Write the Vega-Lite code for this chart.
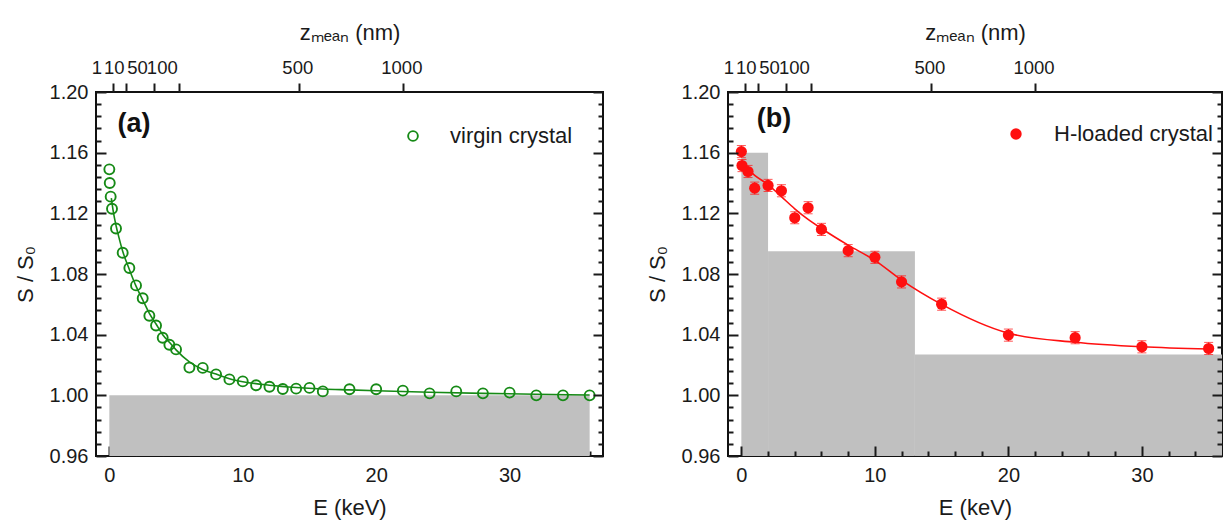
{
  "$schema": "https://vega.github.io/schema/vega-lite/v6.json",
  "padding": {"left": 13, "top": 20, "right": 5, "bottom": 5},
  "spacing": 40,
  "config": {
    "font": "Liberation Sans",
    "view": {"stroke": "#111", "strokeWidth": 2},
    "axis": {
      "domain": false, "grid": false,
      "labelFont": "Liberation Sans", "labelFontSize": 20, "labelColor": "#1a1a1a",
      "titleFont": "Liberation Sans", "titleFontSize": 22, "titleFontWeight": "normal", "titleColor": "#1a1a1a",
      "tickColor": "#1a1a1a", "tickWidth": 2,
      "labelOverlap": false, "labelBound": false, "labelFlush": false
    },
    "legend": {"labelFont": "Liberation Sans", "labelFontSize": 22, "labelColor": "#1a1a1a"}
  },
  "datasets": {
    "gray_a": [{"x0": 0, "x1": 36, "y0": 0.96, "y1": 1.0}],
    "gray_b": [
      {"x0": 0, "x1": 2, "y0": 0.96, "y1": 1.16},
      {"x0": 2, "x1": 13, "y0": 0.96, "y1": 1.095},
      {"x0": 13, "x1": 36, "y0": 0.96, "y1": 1.027}
    ],
    "fit_a": [
      {"E": 0.15, "S": 1.130}, {"E": 0.3, "S": 1.121}, {"E": 0.5, "S": 1.112}, {"E": 0.75, "S": 1.103},
      {"E": 1, "S": 1.095}, {"E": 1.5, "S": 1.083}, {"E": 2, "S": 1.072}, {"E": 2.5, "S": 1.063},
      {"E": 3, "S": 1.054}, {"E": 3.5, "S": 1.047}, {"E": 4, "S": 1.040}, {"E": 4.5, "S": 1.035},
      {"E": 5, "S": 1.030}, {"E": 6, "S": 1.022}, {"E": 7, "S": 1.017}, {"E": 8, "S": 1.014},
      {"E": 9, "S": 1.011}, {"E": 10, "S": 1.009}, {"E": 12, "S": 1.0067}, {"E": 14, "S": 1.0052},
      {"E": 16, "S": 1.0042}, {"E": 18, "S": 1.0036}, {"E": 20, "S": 1.003}, {"E": 24, "S": 1.002},
      {"E": 28, "S": 1.0013}, {"E": 32, "S": 1.0007}, {"E": 36, "S": 1.0002}
    ],
    "pts_a": [
      {"E": 0, "S": 1.149, "series": "virgin crystal"}, {"E": 0.03, "S": 1.140, "series": "virgin crystal"},
      {"E": 0.1, "S": 1.131, "series": "virgin crystal"}, {"E": 0.2, "S": 1.123, "series": "virgin crystal"},
      {"E": 0.5, "S": 1.110, "series": "virgin crystal"}, {"E": 1, "S": 1.094, "series": "virgin crystal"},
      {"E": 1.5, "S": 1.084, "series": "virgin crystal"}, {"E": 2, "S": 1.0725, "series": "virgin crystal"},
      {"E": 2.5, "S": 1.064, "series": "virgin crystal"}, {"E": 3, "S": 1.0525, "series": "virgin crystal"},
      {"E": 3.5, "S": 1.046, "series": "virgin crystal"}, {"E": 4, "S": 1.038, "series": "virgin crystal"},
      {"E": 4.5, "S": 1.0334, "series": "virgin crystal"}, {"E": 5, "S": 1.0303, "series": "virgin crystal"},
      {"E": 6, "S": 1.0183, "series": "virgin crystal"}, {"E": 7, "S": 1.0181, "series": "virgin crystal"},
      {"E": 8, "S": 1.0138, "series": "virgin crystal"}, {"E": 9, "S": 1.0105, "series": "virgin crystal"},
      {"E": 10, "S": 1.0092, "series": "virgin crystal"}, {"E": 11, "S": 1.0066, "series": "virgin crystal"},
      {"E": 12, "S": 1.0057, "series": "virgin crystal"}, {"E": 13, "S": 1.0042, "series": "virgin crystal"},
      {"E": 14, "S": 1.0044, "series": "virgin crystal"}, {"E": 15, "S": 1.0049, "series": "virgin crystal"},
      {"E": 16, "S": 1.0026, "series": "virgin crystal"}, {"E": 18, "S": 1.004, "series": "virgin crystal"},
      {"E": 20, "S": 1.004, "series": "virgin crystal"}, {"E": 22, "S": 1.0031, "series": "virgin crystal"},
      {"E": 24, "S": 1.0013, "series": "virgin crystal"}, {"E": 26, "S": 1.0026, "series": "virgin crystal"},
      {"E": 28, "S": 1.0013, "series": "virgin crystal"}, {"E": 30, "S": 1.0018, "series": "virgin crystal"},
      {"E": 32, "S": 1.0, "series": "virgin crystal"}, {"E": 34, "S": 1.0, "series": "virgin crystal"},
      {"E": 36, "S": 1.0, "series": "virgin crystal"}
    ],
    "fit_b": [
      {"E": 0, "S": 1.153}, {"E": 0.5, "S": 1.149}, {"E": 1, "S": 1.145}, {"E": 2, "S": 1.139},
      {"E": 3, "S": 1.131}, {"E": 4, "S": 1.123}, {"E": 5, "S": 1.116}, {"E": 6, "S": 1.110},
      {"E": 8, "S": 1.099}, {"E": 10, "S": 1.089}, {"E": 12, "S": 1.076}, {"E": 15, "S": 1.060},
      {"E": 20, "S": 1.041}, {"E": 25, "S": 1.035}, {"E": 30, "S": 1.032}, {"E": 35, "S": 1.0305}
    ],
    "pts_b": [
      {"E": 0, "S": 1.1607, "err": 0.004, "series": "H-loaded crystal"},
      {"E": 0.05, "S": 1.1515, "err": 0.004, "series": "H-loaded crystal"},
      {"E": 0.5, "S": 1.1476, "err": 0.004, "series": "H-loaded crystal"},
      {"E": 1, "S": 1.1366, "err": 0.004, "series": "H-loaded crystal"},
      {"E": 2, "S": 1.1384, "err": 0.004, "series": "H-loaded crystal"},
      {"E": 3, "S": 1.1349, "err": 0.004, "series": "H-loaded crystal"},
      {"E": 4, "S": 1.1171, "err": 0.004, "series": "H-loaded crystal"},
      {"E": 5, "S": 1.1237, "err": 0.004, "series": "H-loaded crystal"},
      {"E": 6, "S": 1.1094, "err": 0.004, "series": "H-loaded crystal"},
      {"E": 8, "S": 1.0954, "err": 0.004, "series": "H-loaded crystal"},
      {"E": 10, "S": 1.091, "err": 0.004, "series": "H-loaded crystal"},
      {"E": 12, "S": 1.0748, "err": 0.004, "series": "H-loaded crystal"},
      {"E": 15, "S": 1.0601, "err": 0.004, "series": "H-loaded crystal"},
      {"E": 20, "S": 1.0397, "err": 0.004, "series": "H-loaded crystal"},
      {"E": 25, "S": 1.038, "err": 0.004, "series": "H-loaded crystal"},
      {"E": 30, "S": 1.032, "err": 0.004, "series": "H-loaded crystal"},
      {"E": 35, "S": 1.0309, "err": 0.004, "series": "H-loaded crystal"}
    ],
    "label_a": [{"E": 1.85, "S": 1.179, "t": "(a)"}],
    "label_b": [{"E": 2.44, "S": 1.182, "t": "(b)"}]
  },
  "resolve": {"scale": {"x": "independent", "y": "independent", "color": "independent"}},
  "hconcat": [
    {
      "width": 507, "height": 364,
      "resolve": {"axis": {"x": "independent", "y": "independent"}},
      "layer": [
        {
          "data": {"name": "gray_a"},
          "mark": {"type": "rect", "color": "#c0c0c0"},
          "encoding": {
            "x": {"field": "x0", "type": "quantitative", "scale": {"domain": [-1, 37], "nice": false, "zero": false},
                  "axis": {"orient": "bottom", "values": [0, 10, 20, 30], "tickSize": -10, "labelPadding": 19, "title": "E (keV)", "titlePadding": 12, "zindex": 0}},
            "x2": {"field": "x1"},
            "y": {"field": "y0", "type": "quantitative", "scale": {"domain": [0.96, 1.2], "nice": false, "zero": false},
                  "axis": {"orient": "left", "values": [0.96, 1.0, 1.04, 1.08, 1.12, 1.16, 1.2], "format": ".2f", "tickSize": -10, "labelPadding": 18, "title": "S / S₀", "titlePadding": 12, "zindex": 1}},
            "y2": {"field": "y1"}
          }
        },
        {
          "data": {"name": "fit_a"},
          "mark": {"type": "line", "color": "#168a16", "strokeWidth": 1.6, "interpolate": "monotone"},
          "encoding": {
            "x": {"field": "E", "type": "quantitative", "scale": {"domain": [-1, 37], "nice": false, "zero": false},
                  "axis": {"orient": "bottom", "values": [2, 4, 6, 8, 12, 14, 16, 18, 22, 24, 26, 28, 32, 34, 36], "tickSize": -5, "labels": false, "title": null, "zindex": 0}},
            "y": {"field": "S", "type": "quantitative", "scale": {"domain": [0.96, 1.2], "nice": false, "zero": false},
                  "axis": {"orient": "left", "values": [0.968, 0.976, 0.984, 0.992, 1.008, 1.016, 1.024, 1.032, 1.048, 1.056, 1.064, 1.072, 1.088, 1.096, 1.104, 1.112, 1.128, 1.136, 1.144, 1.152, 1.168, 1.176, 1.184, 1.192], "tickSize": -5, "labels": false, "title": null, "zindex": 1}}
          }
        },
        {
          "data": {"name": "pts_a"},
          "mark": {"type": "point", "filled": false, "size": 100, "strokeWidth": 1.9, "opacity": 1},
          "encoding": {
            "x": {"field": "E", "type": "quantitative", "scale": {"domain": [-1, 37], "nice": false, "zero": false},
                  "axis": {"orient": "top", "values": [0.3, 1.22, 3.35, 5.2, 14.2, 22.0], "tickSize": 9, "labelPadding": 6, "labelFontSize": 18.5, "title": "zₘₑₐₙ (nm)", "titlePadding": 14, "zindex": 1,
                           "labelAlign": {"condition": {"test": "(datum.value > 1 && datum.value < 2) || (datum.value > 5 && datum.value < 6)", "value": "right"}, "value": "center"},
                           "labelOffset": {"condition": {"test": "datum.value < 0.5 || (datum.value > 3 && datum.value < 4)", "value": -17}, "value": -1.5},
                           "labelExpr": "datum.value < 0.5 ? '1' : datum.value < 2 ? '10' : datum.value < 4 ? '50' : datum.value < 10 ? '100' : datum.value < 18 ? '500' : '1000'"}},
            "y": {"field": "S", "type": "quantitative", "scale": {"domain": [0.96, 1.2], "nice": false, "zero": false},
                  "axis": {"orient": "right", "values": [0.96, 1.0, 1.04, 1.08, 1.12, 1.16, 1.2], "tickSize": -10, "labels": false, "title": null, "zindex": 1}},
            "color": {"field": "series", "type": "nominal", "scale": {"range": ["#168a16"]},
                      "legend": {"title": null, "orient": "none", "legendX": 306, "legendY": 33, "symbolSize": 95, "symbolStrokeWidth": 1.9, "labelOffset": 26, "padding": 0}}
          }
        },
        {
          "data": {"name": "label_a"},
          "mark": {"type": "text", "fontSize": 27, "fontWeight": "bold", "color": "#111", "align": "center", "baseline": "middle"},
          "encoding": {
            "x": {"field": "E", "type": "quantitative", "scale": {"domain": [-1, 37], "nice": false, "zero": false}, "axis": null},
            "y": {"field": "S", "type": "quantitative", "scale": {"domain": [0.96, 1.2], "nice": false, "zero": false},
                  "axis": {"orient": "right", "values": [0.968, 0.976, 0.984, 0.992, 1.008, 1.016, 1.024, 1.032, 1.048, 1.056, 1.064, 1.072, 1.088, 1.096, 1.104, 1.112, 1.128, 1.136, 1.144, 1.152, 1.168, 1.176, 1.184, 1.192], "tickSize": -5, "labels": false, "title": null, "zindex": 1}},
            "text": {"field": "t"}
          }
        }
      ]
    },
    {
      "width": 494, "height": 364,
      "resolve": {"axis": {"x": "independent", "y": "independent"}},
      "layer": [
        {
          "data": {"name": "gray_b"},
          "mark": {"type": "rect", "color": "#c0c0c0"},
          "encoding": {
            "x": {"field": "x0", "type": "quantitative", "scale": {"domain": [-1, 36], "nice": false, "zero": false},
                  "axis": {"orient": "bottom", "values": [0, 10, 20, 30], "tickSize": -10, "labelPadding": 19, "title": "E (keV)", "titlePadding": 12, "zindex": 1}},
            "x2": {"field": "x1"},
            "y": {"field": "y0", "type": "quantitative", "scale": {"domain": [0.96, 1.2], "nice": false, "zero": false},
                  "axis": {"orient": "left", "values": [0.96, 1.0, 1.04, 1.08, 1.12, 1.16, 1.2], "format": ".2f", "tickSize": -10, "labelPadding": 18, "title": "S / S₀", "titlePadding": 12, "zindex": 1}},
            "y2": {"field": "y1"}
          }
        },
        {
          "data": {"name": "fit_b"},
          "mark": {"type": "line", "color": "#ff1010", "strokeWidth": 1.6, "interpolate": "monotone"},
          "encoding": {
            "x": {"field": "E", "type": "quantitative", "scale": {"domain": [-1, 36], "nice": false, "zero": false},
                  "axis": {"orient": "bottom", "values": [2, 4, 6, 8, 12, 14, 16, 18, 22, 24, 26, 28, 32, 34], "tickSize": -5, "labels": false, "title": null, "zindex": 1}},
            "y": {"field": "S", "type": "quantitative", "scale": {"domain": [0.96, 1.2], "nice": false, "zero": false},
                  "axis": {"orient": "left", "values": [0.968, 0.976, 0.984, 0.992, 1.008, 1.016, 1.024, 1.032, 1.048, 1.056, 1.064, 1.072, 1.088, 1.096, 1.104, 1.112, 1.128, 1.136, 1.144, 1.152, 1.168, 1.176, 1.184, 1.192], "tickSize": -5, "labels": false, "title": null, "zindex": 1}}
          }
        },
        {
          "data": {"name": "pts_b"},
          "mark": {"type": "errorbar", "color": "#ff1010", "ticks": {"size": 9, "color": "#ff1010"}},
          "encoding": {
            "x": {"field": "E", "type": "quantitative", "scale": {"domain": [-1, 36], "nice": false, "zero": false}, "axis": null},
            "y": {"field": "S", "type": "quantitative", "scale": {"domain": [0.96, 1.2], "nice": false, "zero": false}, "axis": null},
            "yError": {"field": "err"}
          }
        },
        {
          "data": {"name": "pts_b"},
          "mark": {"type": "point", "filled": true, "size": 125, "opacity": 1, "shape": "circle"},
          "encoding": {
            "x": {"field": "E", "type": "quantitative", "scale": {"domain": [-1, 36], "nice": false, "zero": false},
                  "axis": {"orient": "top", "values": [0.3, 1.22, 3.35, 5.2, 14.2, 22.0], "tickSize": 9, "labelPadding": 6, "labelFontSize": 18.5, "title": "zₘₑₐₙ (nm)", "titlePadding": 14, "zindex": 1,
                           "labelAlign": {"condition": {"test": "(datum.value > 1 && datum.value < 2) || (datum.value > 5 && datum.value < 6)", "value": "right"}, "value": "center"},
                           "labelOffset": {"condition": {"test": "datum.value < 0.5 || (datum.value > 3 && datum.value < 4)", "value": -17}, "value": -1.5},
                           "labelExpr": "datum.value < 0.5 ? '1' : datum.value < 2 ? '10' : datum.value < 4 ? '50' : datum.value < 10 ? '100' : datum.value < 18 ? '500' : '1000'"}},
            "y": {"field": "S", "type": "quantitative", "scale": {"domain": [0.96, 1.2], "nice": false, "zero": false},
                  "axis": {"orient": "right", "values": [0.96, 1.0, 1.04, 1.08, 1.12, 1.16, 1.2], "tickSize": -10, "labels": false, "title": null, "zindex": 1}},
            "color": {"field": "series", "type": "nominal", "scale": {"range": ["#ff1010"]},
                      "legend": {"title": null, "orient": "none", "legendX": 277, "legendY": 31, "symbolSize": 130, "symbolType": "circle", "labelOffset": 27, "padding": 0}}
          }
        },
        {
          "data": {"name": "label_b"},
          "mark": {"type": "text", "fontSize": 27, "fontWeight": "bold", "color": "#111", "align": "center", "baseline": "middle"},
          "encoding": {
            "x": {"field": "E", "type": "quantitative", "scale": {"domain": [-1, 36], "nice": false, "zero": false}, "axis": null},
            "y": {"field": "S", "type": "quantitative", "scale": {"domain": [0.96, 1.2], "nice": false, "zero": false},
                  "axis": {"orient": "right", "values": [0.968, 0.976, 0.984, 0.992, 1.008, 1.016, 1.024, 1.032, 1.048, 1.056, 1.064, 1.072, 1.088, 1.096, 1.104, 1.112, 1.128, 1.136, 1.144, 1.152, 1.168, 1.176, 1.184, 1.192], "tickSize": -5, "labels": false, "title": null, "zindex": 1}},
            "text": {"field": "t"}
          }
        }
      ]
    }
  ]
}
